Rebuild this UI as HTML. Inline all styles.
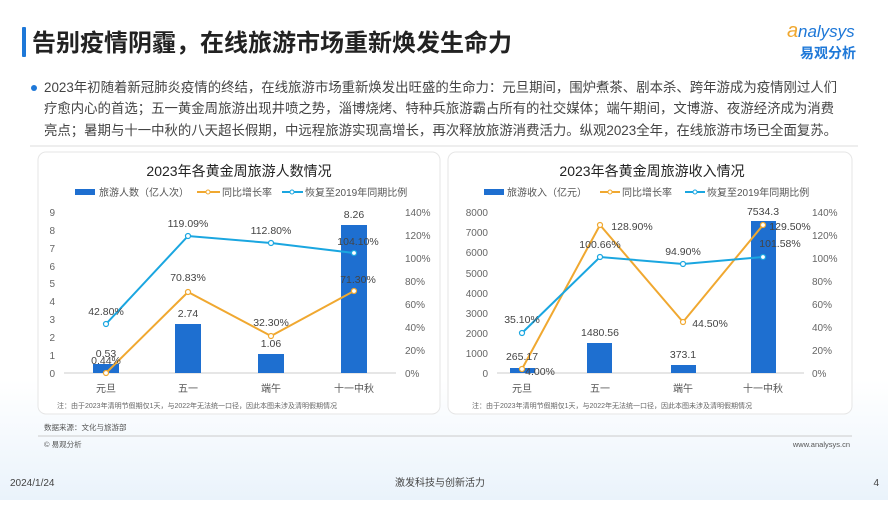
<!DOCTYPE html>
<html><head><meta charset="utf-8"><style>
body{margin:0;width:888px;height:500px;overflow:hidden;background:#fff;font-family:"Liberation Sans","Noto Sans CJK SC",sans-serif}
</style></head><body>
<svg width="888" height="500" xmlns="http://www.w3.org/2000/svg" font-family="Liberation Sans, Noto Sans CJK SC, sans-serif">
<defs><linearGradient id="bg" x1="0" y1="0" x2="0" y2="1"><stop offset="0" stop-color="#fff"/><stop offset="1" stop-color="#eaf3fb"/></linearGradient></defs>
<rect x="0" y="380" width="888" height="120" fill="url(#bg)"/>
<rect x="22" y="27" width="4" height="30" fill="#1e78d8" rx="1"/>
<text x="32" y="51" font-size="24" font-weight="bold" fill="#222">告别疫情阴霾，在线旅游市场重新焕发生命力</text>
<text x="787" y="37" font-size="20" font-style="italic" fill="#f0a830">a</text>
<text x="798" y="37" font-size="17" font-style="italic" fill="#1e78d8">nalysys</text>
<text x="800" y="58" font-size="14" font-weight="bold" fill="#1e78d8">易观分析</text>
<circle cx="34" cy="88" r="3" fill="#1e78d8"/>
<g font-size="13.4" fill="#444">
<text x="44" y="92">2023年初随着新冠肺炎疫情的终结，在线旅游市场重新焕发出旺盛的生命力：元旦期间，围炉煮茶、剧本杀、跨年游成为疫情刚过人们</text>
<text x="44" y="113">疗愈内心的首选；五一黄金周旅游出现井喷之势，淄博烧烤、特种兵旅游霸占所有的社交媒体；端午期间，文博游、夜游经济成为消费</text>
<text x="44" y="135">亮点；暑期与十一中秋的八天超长假期，中远程旅游实现高增长，再次释放旅游消费活力。纵观2023全年，在线旅游市场已全面复苏。</text>
</g>
<line x1="30" y1="146" x2="858" y2="146" stroke="#ddd"/>
<rect x="38" y="152" width="402" height="262" rx="8" fill="#fff" stroke="#e6e6e6"/>
<rect x="448" y="152" width="404" height="262" rx="8" fill="#fff" stroke="#e6e6e6"/>
<text x="239" y="176" font-size="14" text-anchor="middle" fill="#222">2023年各黄金周旅游人数情况</text>
<g font-size="10" fill="#555">
<rect x="75" y="189" width="20" height="6" fill="#1e6fd0"/><text x="99" y="196">旅游人数（亿人次）</text>
<line x1="197" y1="192" x2="220" y2="192" stroke="#f0a830" stroke-width="2"/><circle cx="208" cy="192" r="2" fill="#fff" stroke="#f0a830"/><text x="222" y="196">同比增长率</text>
<line x1="282" y1="192" x2="303" y2="192" stroke="#1aa6e0" stroke-width="2"/><circle cx="292" cy="192" r="2" fill="#fff" stroke="#1aa6e0"/><text x="305" y="196">恢复至2019年同期比例</text>
</g>
<g font-size="10" fill="#666" text-anchor="end">
<text x="55" y="377">0</text><text x="55" y="359">1</text><text x="55" y="341">2</text><text x="55" y="323">3</text><text x="55" y="305">4</text><text x="55" y="287">5</text><text x="55" y="270">6</text><text x="55" y="252">7</text><text x="55" y="234">8</text><text x="55" y="216">9</text>
</g>
<g font-size="10" fill="#666">
<text x="405" y="377">0%</text><text x="405" y="354">20%</text><text x="405" y="331">40%</text><text x="405" y="308">60%</text><text x="405" y="285">80%</text><text x="405" y="262">100%</text><text x="405" y="239">120%</text><text x="405" y="216">140%</text>
</g>
<line x1="64" y1="373" x2="396" y2="373" stroke="#ccc"/>
<g fill="#1e6fd0"><rect x="93" y="364" width="26" height="9"/><rect x="175" y="324" width="26" height="49"/><rect x="258" y="354" width="26" height="19"/><rect x="341" y="225" width="26" height="148"/></g>
<polyline points="106,373 188,292 271,336 354,291" fill="none" stroke="#f0a830" stroke-width="2"/>
<polyline points="106,324 188,236 271,243 354,253" fill="none" stroke="#1aa6e0" stroke-width="2"/>
<g fill="#fff" stroke-width="1.2"><circle cx="106" cy="373" r="2.5" stroke="#f0a830"/><circle cx="188" cy="292" r="2.5" stroke="#f0a830"/><circle cx="271" cy="336" r="2.5" stroke="#f0a830"/><circle cx="354" cy="291" r="2.5" stroke="#f0a830"/>
<circle cx="106" cy="324" r="2.5" stroke="#1aa6e0"/><circle cx="188" cy="236" r="2.5" stroke="#1aa6e0"/><circle cx="271" cy="243" r="2.5" stroke="#1aa6e0"/><circle cx="354" cy="253" r="2.5" stroke="#1aa6e0"/></g>
<g font-size="10.5" fill="#444" text-anchor="middle">
<text x="106" y="357">0.53</text><text x="106" y="364">0.44%</text><text x="106" y="315">42.80%</text>
<text x="188" y="317">2.74</text><text x="188" y="281">70.83%</text><text x="188" y="227">119.09%</text>
<text x="271" y="347">1.06</text><text x="271" y="326">32.30%</text><text x="271" y="234">112.80%</text>
<text x="354" y="218">8.26</text><text x="358" y="245">104.10%</text><text x="358" y="283">71.30%</text>
</g>
<g font-size="10" fill="#555" text-anchor="middle"><text x="106" y="392">元旦</text><text x="188" y="392">五一</text><text x="271" y="392">端午</text><text x="354" y="392">十一中秋</text></g>
<text x="57" y="408" font-size="7" fill="#666">注：由于2023年清明节假期仅1天，与2022年无法统一口径，因此本图未涉及清明假期情况</text>
<text x="652" y="176" font-size="14" text-anchor="middle" fill="#222">2023年各黄金周旅游收入情况</text>
<g font-size="10" fill="#555">
<rect x="484" y="189" width="20" height="6" fill="#1e6fd0"/><text x="507" y="196">旅游收入（亿元）</text>
<line x1="600" y1="192" x2="620" y2="192" stroke="#f0a830" stroke-width="2"/><circle cx="610" cy="192" r="2" fill="#fff" stroke="#f0a830"/><text x="622" y="196">同比增长率</text>
<line x1="685" y1="192" x2="705" y2="192" stroke="#1aa6e0" stroke-width="2"/><circle cx="695" cy="192" r="2" fill="#fff" stroke="#1aa6e0"/><text x="707" y="196">恢复至2019年同期比例</text>
</g>
<g font-size="10" fill="#666" text-anchor="end">
<text x="488" y="377">0</text><text x="488" y="357">1000</text><text x="488" y="337">2000</text><text x="488" y="317">3000</text><text x="488" y="297">4000</text><text x="488" y="277">5000</text><text x="488" y="256">6000</text><text x="488" y="236">7000</text><text x="488" y="216">8000</text>
</g>
<g font-size="10" fill="#666">
<text x="812" y="377">0%</text><text x="812" y="354">20%</text><text x="812" y="331">40%</text><text x="812" y="308">60%</text><text x="812" y="285">80%</text><text x="812" y="262">100%</text><text x="812" y="239">120%</text><text x="812" y="216">140%</text>
</g>
<line x1="497" y1="373" x2="804" y2="373" stroke="#ccc"/>
<g fill="#1e6fd0"><rect x="510" y="368" width="25" height="5"/><rect x="587" y="343" width="25" height="30"/><rect x="671" y="365" width="25" height="8"/><rect x="751" y="221" width="25" height="152"/></g>
<polyline points="522,369 600,225 683,322 763,225" fill="none" stroke="#f0a830" stroke-width="2"/>
<polyline points="522,333 600,257 683,264 763,257" fill="none" stroke="#1aa6e0" stroke-width="2"/>
<g fill="#fff" stroke-width="1.2"><circle cx="522" cy="369" r="2.5" stroke="#f0a830"/><circle cx="600" cy="225" r="2.5" stroke="#f0a830"/><circle cx="683" cy="322" r="2.5" stroke="#f0a830"/><circle cx="763" cy="225" r="2.5" stroke="#f0a830"/>
<circle cx="522" cy="333" r="2.5" stroke="#1aa6e0"/><circle cx="600" cy="257" r="2.5" stroke="#1aa6e0"/><circle cx="683" cy="264" r="2.5" stroke="#1aa6e0"/><circle cx="763" cy="257" r="2.5" stroke="#1aa6e0"/></g>
<g font-size="10.5" fill="#444" text-anchor="middle">
<text x="522" y="360">265.17</text><text x="540" y="375">4.00%</text><text x="522" y="323">35.10%</text>
<text x="600" y="336">1480.56</text><text x="632" y="230">128.90%</text><text x="600" y="248">100.66%</text>
<text x="683" y="358">373.1</text><text x="710" y="327">44.50%</text><text x="683" y="255">94.90%</text>
<text x="763" y="215">7534.3</text><text x="790" y="230">129.50%</text><text x="780" y="247">101.58%</text>
</g>
<g font-size="10" fill="#555" text-anchor="middle"><text x="522" y="392">元旦</text><text x="600" y="392">五一</text><text x="683" y="392">端午</text><text x="763" y="392">十一中秋</text></g>
<text x="472" y="408" font-size="7" fill="#666">注：由于2023年清明节假期仅1天，与2022年无法统一口径，因此本图未涉及清明假期情况</text>
<text x="44" y="430" font-size="7.5" fill="#555">数据来源：文化与旅游部</text>
<line x1="38" y1="436" x2="852" y2="436" stroke="#ccc"/>
<text x="44" y="447" font-size="7.5" fill="#555">© 易观分析</text>
<text x="850" y="447" font-size="7.5" fill="#555" text-anchor="end">www.analysys.cn</text>
<text x="10" y="486" font-size="10" fill="#444">2024/1/24</text>
<text x="440" y="486" font-size="10" fill="#444" text-anchor="middle">激发科技与创新活力</text>
<text x="879" y="486" font-size="10" fill="#444" text-anchor="end">4</text>
</svg>
</body></html>
